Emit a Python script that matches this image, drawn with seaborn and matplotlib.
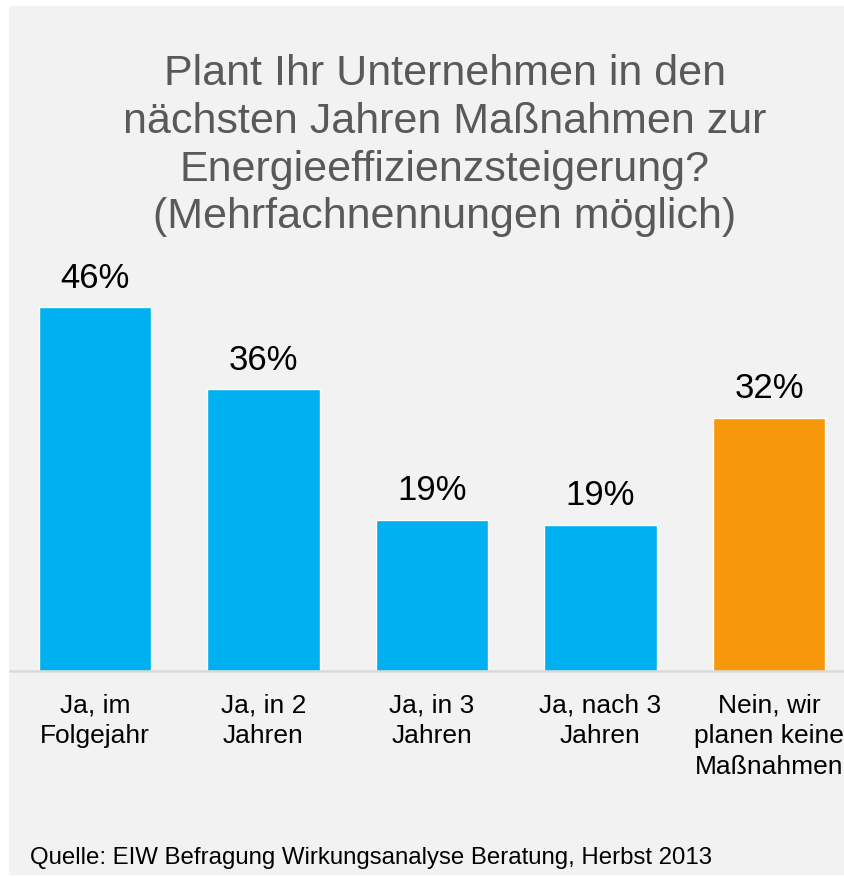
import matplotlib
matplotlib.use("Agg")
import matplotlib.pyplot as plt
import seaborn as sns
from matplotlib.patches import Rectangle

# Data
categories = [
    "Ja, im\nFolgejahr",
    "Ja, in 2\nJahren",
    "Ja, in 3\nJahren",
    "Ja, nach 3\nJahren",
    "Nein, wir\nplanen keine\nMaßnahmen",
]
values = [46.0, 35.6, 19.1, 18.5, 32.0]
value_labels = ["46%", "36%", "19%", "19%", "32%"]
bar_colors = ["#00B0F0", "#00B0F0", "#00B0F0", "#00B0F0", "#F7970B"]

title = ("Plant Ihr Unternehmen in den\n"
         "nächsten Jahren Maßnahmen zur\n"
         "Energieeffizienzsteigerung?\n"
         "(Mehrfachnennungen möglich)")
source = "Quelle: EIW Befragung Wirkungsanalyse Beratung, Herbst 2013"

W, H = 845, 877
sns.set_theme(style="white")
plt.rcParams["font.family"] = ["Liberation Sans", "DejaVu Sans"]

fig = plt.figure(figsize=(W / 100, H / 100), dpi=100, facecolor="white")

# light grey panel behind everything
fig.patches.append(Rectangle((9 / W, 2 / H), 1 - 9 / W, 1 - 8 / H,
                             transform=fig.transFigure, facecolor="#F2F2F2",
                             edgecolor="none", zorder=-10))

# axes geometry in pixels
pitch = 168.5          # px between bar centres
first_center = 95.0    # px
base_y = 671.0         # px from top
px_per_pct = 7.91
left_px = 10.0
ax_w_px = W - left_px
ymax = 50
ax_h_px = ymax * px_per_pct
ax = fig.add_axes([left_px / W, (H - base_y) / H, ax_w_px / W, ax_h_px / H])
ax.set_facecolor("none")
ax.set_zorder(1)

sns.barplot(x=categories, y=values, hue=categories, palette=bar_colors,
            legend=False, width=0.67, saturation=1, ax=ax)

x0 = -(first_center - left_px) / pitch
ax.set_xlim(x0, x0 + ax_w_px / pitch)
ax.set_ylim(0, ymax)

for cont, lab in zip(ax.containers, value_labels):
    ax.bar_label(cont, labels=[lab], padding=9, fontsize=25, color="black")

ax.set_yticks([])
ax.set_xlabel("")
ax.set_ylabel("")
for side in ["top", "right", "left"]:
    ax.spines[side].set_visible(False)
ax.spines["bottom"].set_color("#D9D9D9")
ax.spines["bottom"].set_linewidth(1.8)
ax.tick_params(axis="x", length=0, pad=16)
for t in ax.get_xticklabels():
    t.set_fontsize(19)
    t.set_color("black")
    t.set_linespacing(1.36)
    t.set_verticalalignment("top")

fig.text(445 / W, 1 - 54 / H, title, ha="center", va="top", fontsize=31,
         color="#595959", linespacing=1.25)
fig.text(30 / W, 1 - 864 / H, source, ha="left", va="baseline", fontsize=17.3,
         color="black")

fig.savefig("out.png", dpi=100, facecolor="white")
